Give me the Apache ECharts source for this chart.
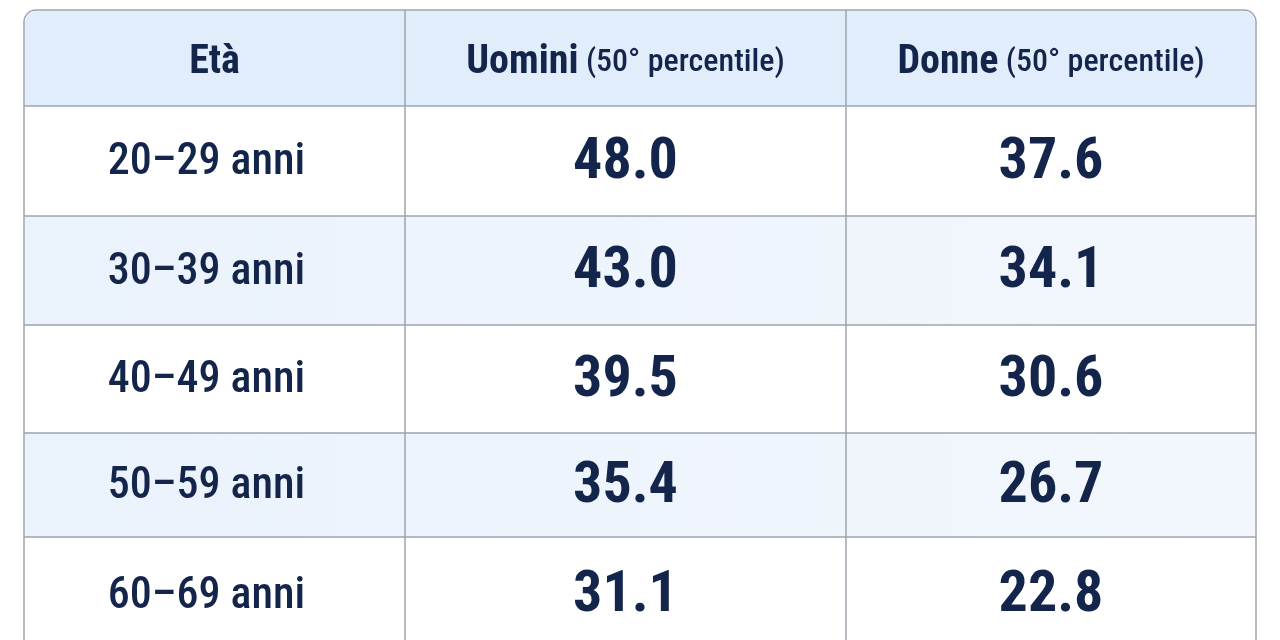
<!DOCTYPE html><html><head><meta charset="utf-8"><script src="https://cdn.jsdelivr.net/npm/echarts@6/dist/echarts.min.js"></script>
<style>html,body{margin:0;background:#fff}#c{width:1280px;height:640px}</style></head><body><div id="c"></div><script>
const headers=[["Età",""],["Uomini"," (50° percentile)"],["Donne"," (50° percentile)"]];
const ages=["20–29 anni","30–39 anni","40–49 anni","50–59 anni","60–69 anni"];
const uomini=["48.0","43.0","39.5","35.4","31.1"];
const donne=["37.6","34.1","30.6","26.7","22.8"];
const colX=[24,405,846,1256];
const rowY=[10,106,216,325,433,537,660];
const F='"Liberation Sans Narrow","Roboto Condensed","Roboto",sans-serif';
const C='#13254b', L='#9ba4ae';
const g=[];
g.push({type:'rect',shape:{x:colX[0],y:rowY[0],width:colX[3]-colX[0],height:rowY[6]-rowY[0],r:12},style:{fill:'#fff',stroke:L,lineWidth:1.5}});
g.push({type:'rect',shape:{x:colX[0]+1,y:rowY[0]+1,width:colX[3]-colX[0]-2,height:rowY[1]-rowY[0]-1,r:[11,11,0,0]},style:{fill:'#e2edfb'}});
for(let r=0;r<5;r++){if(r%2===1)g.push({type:'rect',shape:{x:colX[0]+1,y:rowY[r+1],width:colX[3]-colX[0]-2,height:rowY[r+2]-rowY[r+1]},style:{fill:new echarts.graphic.LinearGradient(0,0,1,0,[{offset:0,color:'#eaf2fc'},{offset:1,color:'#f3f7fd'}])}});}
for(let r=1;r<6;r++)g.push({type:'line',shape:{x1:colX[0],y1:rowY[r],x2:colX[3],y2:rowY[r]},style:{stroke:L,lineWidth:1.5}});
for(let c=1;c<3;c++)g.push({type:'line',shape:{x1:colX[c],y1:rowY[0],x2:colX[c],y2:640},style:{stroke:L,lineWidth:1.5}});
headers.forEach((h,c)=>{g.push({type:'text',x:(colX[c]+colX[c+1])/2,y:63,style:{text:'{a|'+h[0]+'}{b|'+h[1]+'}',rich:{a:{fontFamily:F,fontWeight:'bold',fontSize:40,fill:C},b:{fontFamily:F,fontWeight:500,fontSize:32,fill:C}},align:'center',verticalAlign:'middle'}});});
const cols=[ages,uomini,donne];
cols.forEach((arr,c)=>arr.forEach((t,r)=>{const lab=c===0;g.push({type:'text',x:(colX[c]+colX[c+1])/2+(lab?-8:0),y:(rowY[r+1]+rowY[r+2])/2+(r===4?-2:2),style:{text:t,fontFamily:F,fontWeight:lab?500:'bold',fontSize:lab?44:58,fill:C,align:'center',verticalAlign:'middle'}});}));
const ch=echarts.init(document.getElementById('c'));
ch.setOption({animation:false,graphic:g});
</script></body></html>
